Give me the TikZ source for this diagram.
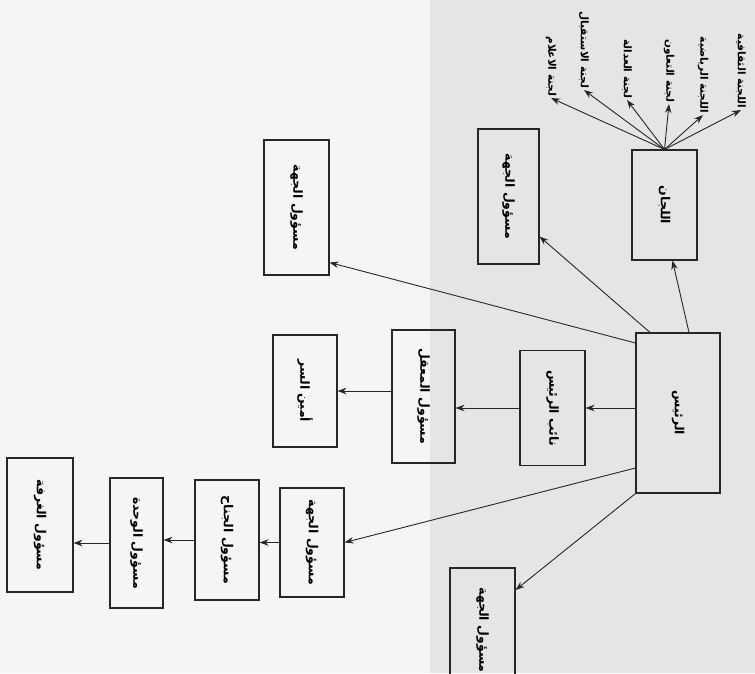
\documentclass[tikz,border=0pt]{standalone}
\usepackage{fontspec}
\usepackage{graphicx}
\usepackage{tikz}
\usetikzlibrary{arrows.meta}
\TeXXeTstate=1
\newfontfamily\arabicfont[Script=Arabic]{DejaVu Sans}
\newcommand\artext[1]{\rotatebox{-90}{\arabicfont\bfseries\beginR #1\endR}}
\tikzstyle{box}=[draw=black!85, line width=1.1pt, rectangle, inner sep=0mm, font=\fontsize{12.5}{14}\selectfont]
\tikzstyle{com}=[draw=none, inner sep=.5mm, font=\fontsize{10.5}{12}\selectfont]
\tikzstyle{conn}=[-{Stealth[length=9pt,width=6.5pt]}, line width=.9pt, black!85]

\begin{document}
\begin{tikzpicture}[x=1pt, y=-1pt]
\useasboundingbox (0,0) rectangle (755,673);
\fill[gray!8] (0,0) rectangle (430,673);
\fill[gray!20] (430,0) rectangle (755,673);
% the head and the committees
\node[box, minimum width=84pt, minimum height=160pt] (root) at (678,413) {\artext{الرئيس}};
\node[box, minimum width=65pt, minimum height=110pt] (lijan) at (664.5,205) {\artext{اللجان}};
\foreach \n/\x/\y/\t in {1/741/110/اللجنة الثقافية, 2/703/115/اللجنة الرياضية,
  3/669/104/لجنة التعاون, 4/627/100/لجنة العدالة, 5/584/90/لجنة الاستقبال,
  6/551/98/لجنة الاعلام}
  \node[com, anchor=south] (c\n) at (\x, \y) {\artext{\t}};
% the officers
\node[box, minimum width=61pt, minimum height=135pt] (jiha1) at (508.5,196.5) {\artext{مسؤول الجهة}};
\node[box, minimum width=65pt, minimum height=135pt] (jiha2) at (296.5,207.5) {\artext{مسؤول الجهة}};
\node[box, minimum width=65pt, minimum height=115pt] (naib) at (552.5,408) {\artext{نائب الرئيس}};
\node[box, minimum width=63pt, minimum height=133pt] (maqil) at (423.5,396.5) {\artext{مسؤول المعقل}};
\node[box, minimum width=64pt, minimum height=112pt] (amin) at (305,391) {\artext{أمين السر}};
\node[box, minimum width=64pt, minimum height=109pt] (jiha3) at (312,542.5) {\artext{مسؤول الجهة}};
\node[box, minimum width=64pt, minimum height=120pt] (janah) at (227,540) {\artext{مسؤول الجناح}};
\node[box, minimum width=53pt, minimum height=130pt] (wahda) at (136.5,543) {\artext{مسؤول الوحدة}};
\node[box, minimum width=66pt, minimum height=134pt] (ghurfa) at (40,525) {\artext{مسؤول الغرفة}};
\node[box, minimum width=65pt, minimum height=124pt] (jiha4) at (482.5,630) {\artext{مسؤول الجهة}};
% connectors
\foreach \n in {1,...,6}
  \draw[conn] (lijan.north) -- (c\n.south);
\draw[conn] ([xshift=11pt]root.north) -- ([xshift=8pt]lijan.south);
\draw[conn] ([xshift=-28pt]root.north) -- ([yshift=-40pt]jiha1.east);
\draw[conn] ([yshift=70pt]root.west) -- ([yshift=-55pt]jiha2.east);
\draw[conn] (root.west |- naib.east) -- (naib.east);
\draw[conn] (naib.west) -- (naib.west -| maqil.east);
\draw[conn] (maqil.west |- amin.east) -- (amin.east);
\draw[conn] ([yshift=-55pt]root.west) -- (jiha3.east);
\draw[conn] (jiha3.west) -- (jiha3.west -| janah.east);
\draw[conn] (janah.west) -- (janah.west -| wahda.east);
\draw[conn] (wahda.west) -- (wahda.west -| ghurfa.east);
\draw[conn] (root.south west) -- ([yshift=40pt]jiha4.east);
\end{tikzpicture}
\end{document}
